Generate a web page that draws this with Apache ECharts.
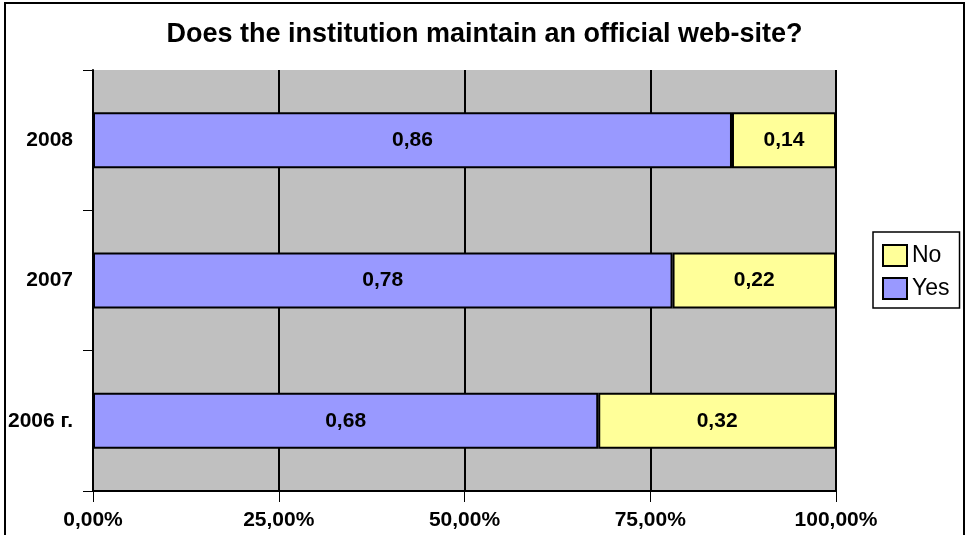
<!DOCTYPE html>
<html>
<head>
<meta charset="utf-8">
<script src="https://cdn.jsdelivr.net/npm/echarts@6/dist/echarts.min.js"></script>
<style>
  html, body { margin: 0; padding: 0; background: #fff; }
  #main { width: 969px; height: 535px; }
</style>
</head>
<body>
<div id="main"></div>
<script>
// data
var years = ['2006 г.', '2007', '2008'];
var yesValues = [0.68, 0.78, 0.86];
var noValues = [0.32, 0.22, 0.14];

var myChart = echarts.init(document.getElementById('main'));

function fmtComma(v, digits) {
    return v.toFixed(digits).replace('.', ',');
}

var labelStyle = {
    show: true,
    position: 'inside',
    color: '#000',
    fontWeight: 'bold',
    fontSize: 21,
    formatter: function (p) { return fmtComma(p.value, 2); }
};

var option = {
    backgroundColor: '#fff',
    textStyle: { fontFamily: 'Liberation Sans, Arial, sans-serif' },
    title: {
        text: 'Does the institution maintain an official web-site?',
        left: 'center',
        top: 16,
        textStyle: { fontSize: 27, fontWeight: 'bold', color: '#000' }
    },
    legend: {
        orient: 'vertical',
        left: 873,
        top: 232,
        padding: [12, 10, 8, 9],
        itemGap: 10,
        itemWidth: 24,
        itemHeight: 21,
        borderColor: '#000',
        borderWidth: 1.5,
        backgroundColor: '#fff',
        selectedMode: false,
        icon: 'rect',
        itemStyle: { borderColor: '#000', borderWidth: 2 },
        textStyle: { fontSize: 23, color: '#000', padding: [0, 0, 0, 0] },
        data: ['No', 'Yes']
    },
    grid: {
        left: 93,
        right: 133,
        top: 70,
        bottom: 44,
        show: true,
        backgroundColor: '#c0c0c0',
        borderWidth: 0
    },
    xAxis: {
        type: 'value',
        min: 0,
        max: 1,
        interval: 0.25,
        axisLine: { show: true, lineStyle: { color: '#000', width: 2 } },
        axisTick: { show: true, length: 11, lineStyle: { color: '#000', width: 1 } },
        splitLine: { show: true, lineStyle: { color: '#000', width: 2 } },
        axisLabel: {
            color: '#000',
            fontSize: 21,
            fontWeight: 'bold',
            margin: 19,
            formatter: function (v) { return fmtComma(v * 100, 2) + '%'; }
        }
    },
    yAxis: {
        type: 'category',
        data: years,
        axisLine: { show: true, lineStyle: { color: '#000', width: 2 } },
        axisTick: { show: true, length: 10, lineStyle: { color: '#000', width: 1 } },
        axisLabel: { color: '#000', fontSize: 21, fontWeight: 'bold', margin: 20 }
    },
    series: [
        {
            name: 'Yes',
            type: 'bar',
            stack: 'total',
            barWidth: 56,
            itemStyle: { color: '#9999ff', borderColor: '#000', borderWidth: 2 },
            label: labelStyle,
            data: yesValues
        },
        {
            name: 'No',
            type: 'bar',
            stack: 'total',
            itemStyle: { color: '#ffff99', borderColor: '#000', borderWidth: 2 },
            label: labelStyle,
            data: noValues
        }
    ],
    graphic: [{
        type: 'rect',
        shape: { x: 5, y: 3, width: 959, height: 600 },
        style: { fill: null, stroke: '#000', lineWidth: 2 },
        silent: true
    }]
};

myChart.setOption(option);
</script>
</body>
</html>
